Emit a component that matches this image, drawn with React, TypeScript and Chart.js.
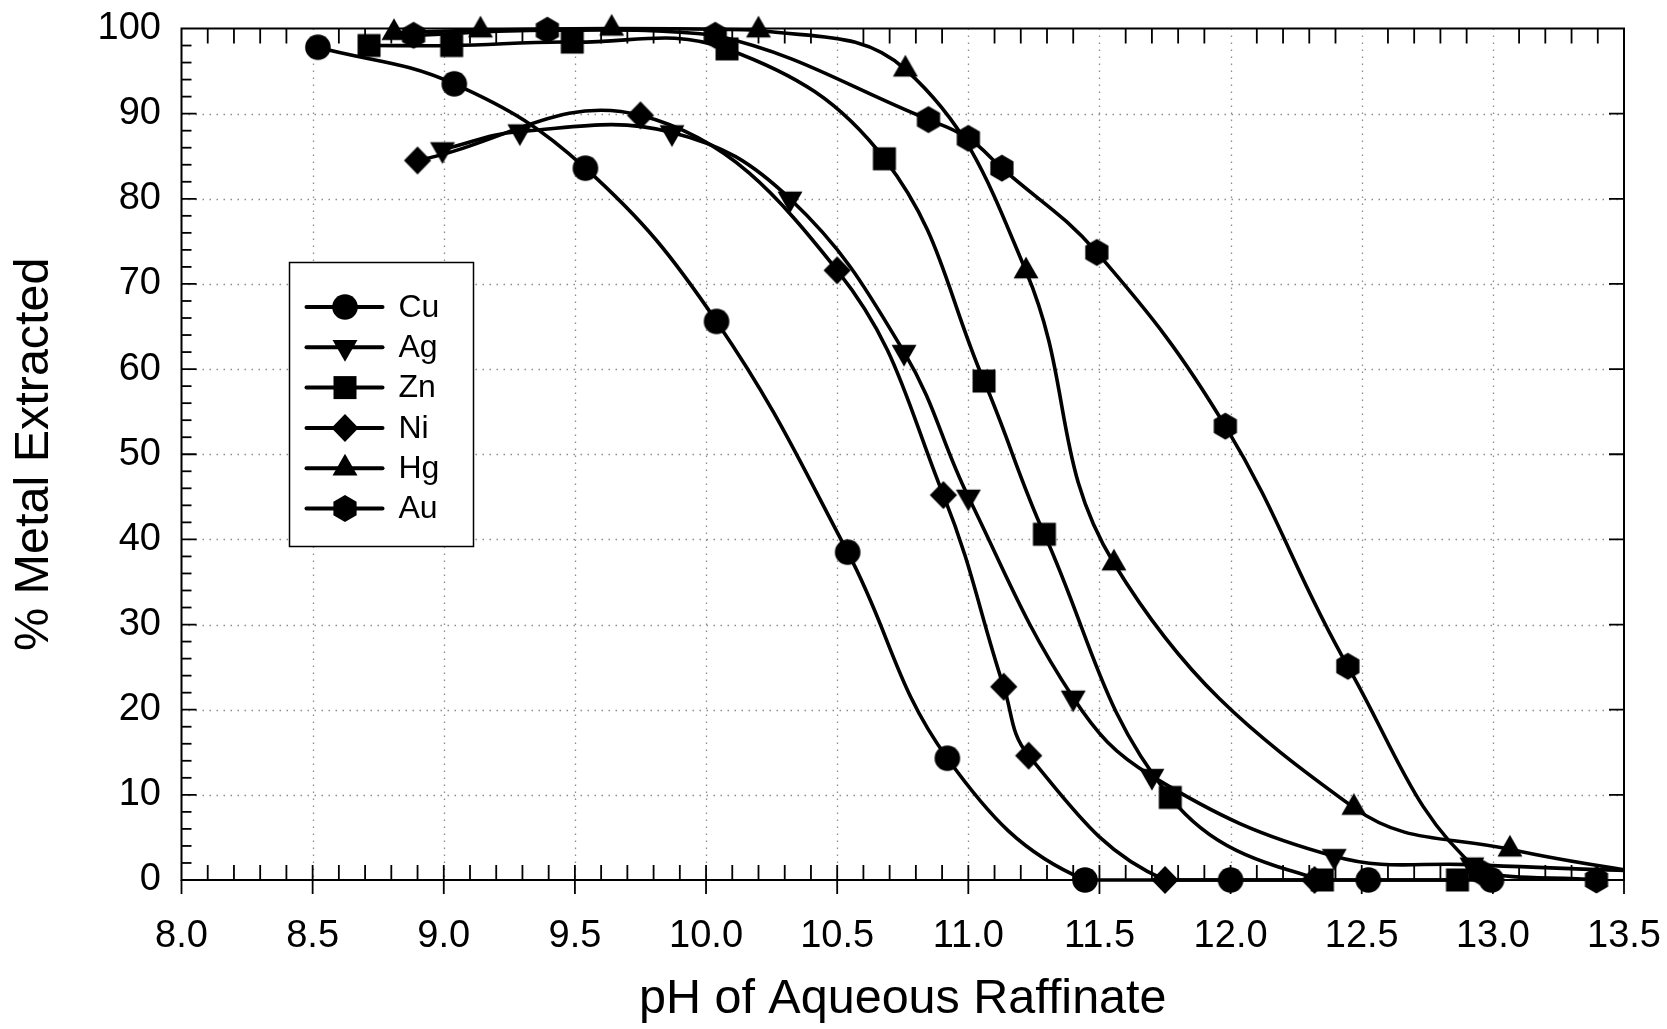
import React, { useEffect, useRef } from "react";
import { Chart, registerables } from "chart.js";

Chart.register(...registerables);

type Pt = [number, number];

// ---- data (pH, % extracted) ----
const cuPoints: Pt[] = [
  [8.52, 97.8], [9.04, 93.5], [9.54, 83.6], [10.04, 65.6], [10.54, 38.5],
  [10.92, 14.3], [11.445, 0], [12.0, 0], [12.525, 0], [12.995, 0],
];
const agPoints: Pt[] = [
  [8.995, 85.8], [9.29, 87.9], [9.87, 87.8], [10.32, 80.0], [10.755, 62.0],
  [11.0, 45.0], [11.4, 21.4], [11.7, 12.2], [12.395, 2.8], [12.92, 1.8], [13.8, 0.8],
];
const znPoints: Pt[] = [
  [8.715, 98.0], [9.03, 98.0], [9.49, 98.4], [10.08, 97.6], [10.68, 84.7],
  [11.06, 58.6], [11.29, 40.6], [11.77, 9.7], [12.35, 0], [12.865, 0],
];
const niPoints: Pt[] = [
  [8.9, 84.5], [9.75, 89.8], [10.5, 71.6], [10.905, 45.2], [11.135, 22.7],
  [11.23, 14.6], [11.75, 0], [12.32, 0],
];
const hgPoints: Pt[] = [
  [8.81, 99.5], [9.14, 99.8], [9.64, 100.0], [10.2, 99.8], [10.76, 95.2],
  [11.22, 71.5], [11.555, 37.2], [12.47, 8.5], [13.065, 3.6], [13.7, 0.2],
];
const auPoints: Pt[] = [
  [8.885, 99.2], [9.395, 99.8], [10.035, 99.2], [10.848, 89.3], [11.0, 87.1],
  [11.128, 83.6], [11.49, 73.7], [11.98, 53.3], [12.447, 25.1], [12.95, 1.0], [13.395, 0],
];

const seriesLabels = ["Cu", "Ag", "Zn", "Ni", "Hg", "Au"];
const seriesPoints = [cuPoints, agPoints, znPoints, niPoints, hgPoints, auPoints];
const seriesMarkers = ["circle", "triangleDown", "square", "diamond", "triangleUp", "hexagon"];

const xTickMin = 8.0;
const xTickMax = 13.5;
const xTickStep = 0.5;
const yTickMin = 0;
const yTickMax = 100;
const yTickStep = 10;

const xTitle = "pH of Aqueous Raffinate";
const yTitle = "% Metal Extracted";

const FONT = "'Liberation Sans', Arial, Helvetica, sans-serif";

function drawMarker(ctx: CanvasRenderingContext2D, kind: string, cx: number, cy: number) {
  ctx.beginPath();
  if (kind === "circle") {
    ctx.arc(cx, cy, 12.8, 0, Math.PI * 2);
  } else if (kind === "triangleDown" || kind === "triangleUp") {
    const R = 14.4;
    const s = kind === "triangleUp" ? -1 : 1;
    ctx.moveTo(cx, cy + s * R);
    ctx.lineTo(cx + R * 0.866, cy - s * R / 2);
    ctx.lineTo(cx - R * 0.866, cy - s * R / 2);
    ctx.closePath();
  } else if (kind === "square") {
    ctx.rect(cx - 11.5, cy - 11.5, 23, 23);
  } else if (kind === "diamond") {
    ctx.moveTo(cx, cy - 14);
    ctx.lineTo(cx + 13.6, cy);
    ctx.lineTo(cx, cy + 14);
    ctx.lineTo(cx - 13.6, cy);
    ctx.closePath();
  } else if (kind === "hexagon") {
    const R = 13.4;
    for (let i = 0; i < 6; i++) {
      const a = -Math.PI / 2 + (i * Math.PI) / 3;
      const px = cx + R * Math.cos(a);
      const py = cy + R * Math.sin(a);
      if (i === 0) ctx.moveTo(px, py);
      else ctx.lineTo(px, py);
    }
    ctx.closePath();
  }
  ctx.fillStyle = "#000";
  ctx.fill();
}

function makeMarkerCanvas(kind: string): HTMLCanvasElement {
  const c = document.createElement("canvas");
  c.width = 36;
  c.height = 36;
  const ctx = c.getContext("2d")!;
  drawMarker(ctx, kind, 18, 18);
  return c;
}

const framePlugin = {
  id: "frameAndGrid",
  beforeDatasetsDraw(chart: any) {
    const { ctx, chartArea } = chart;
    const xs = chart.scales.x;
    const ys = chart.scales.y;
    const { left, right, top, bottom } = chartArea;
    ctx.save();
    // dotted grid
    ctx.strokeStyle = "#8c8c8c";
    ctx.lineWidth = 1.3;
    ctx.setLineDash([1.5, 5.5]);
    const nx = Math.round((xTickMax - xTickMin) / xTickStep);
    for (let i = 1; i < nx; i++) {
      const px = Math.round(xs.getPixelForValue(xTickMin + i * xTickStep)) + 0.5;
      ctx.beginPath();
      ctx.moveTo(px, top);
      ctx.lineTo(px, bottom);
      ctx.stroke();
    }
    const ny = Math.round((yTickMax - yTickMin) / yTickStep);
    for (let i = 1; i < ny; i++) {
      const py = Math.round(ys.getPixelForValue(yTickMin + i * yTickStep)) + 0.5;
      ctx.beginPath();
      ctx.moveTo(left, py);
      ctx.lineTo(right, py);
      ctx.stroke();
    }
    ctx.setLineDash([]);
    ctx.strokeStyle = "#000";
    ctx.lineWidth = 1.8;
    // x ticks (minor every 1/5 of major)
    const nMinorX = nx * 5;
    for (let i = 0; i <= nMinorX; i++) {
      const px = xs.getPixelForValue(xTickMin + (i * xTickStep) / 5);
      const major = i % 5 === 0;
      ctx.beginPath();
      if (major) {
        ctx.moveTo(px, bottom + 14);
        ctx.lineTo(px, i === 0 || i === nMinorX ? bottom : bottom - 15);
      } else {
        ctx.moveTo(px, bottom);
        ctx.lineTo(px, bottom - 15);
        ctx.moveTo(px, top);
        ctx.lineTo(px, top + 15);
      }
      ctx.stroke();
    }
    // y ticks (minor every 1/5 of major)
    const nMinorY = ny * 5;
    for (let i = 1; i < nMinorY; i++) {
      const py = ys.getPixelForValue(yTickMin + (i * yTickStep) / 5);
      const major = i % 5 === 0;
      ctx.beginPath();
      ctx.moveTo(left, py);
      ctx.lineTo(left + (major ? 15 : 10), py);
      if (major) {
        ctx.moveTo(right, py);
        ctx.lineTo(right - 15, py);
      }
      ctx.stroke();
    }
    // frame
    ctx.lineWidth = 2;
    ctx.strokeRect(left, top, right - left, bottom - top);
    ctx.restore();
  },
};

const legendPlugin = {
  id: "boxLegend",
  afterDraw(chart: any) {
    const { ctx, chartArea } = chart;
    const bx = chartArea.left + 108;
    const by = chartArea.top + 234;
    const bw = 184;
    const bh = 284;
    ctx.save();
    ctx.fillStyle = "#fff";
    ctx.fillRect(bx, by, bw, bh);
    ctx.strokeStyle = "#000";
    ctx.lineWidth = 1.5;
    ctx.strokeRect(bx, by, bw, bh);
    ctx.font = `32px ${FONT}`;
    ctx.textBaseline = "middle";
    ctx.textAlign = "left";
    seriesLabels.forEach((lab, i) => {
      const y = by + 44.5 + i * 40.3;
      ctx.strokeStyle = "#000";
      ctx.lineWidth = 4;
      ctx.lineCap = "round";
      ctx.beginPath();
      ctx.moveTo(bx + 17, y);
      ctx.lineTo(bx + 93, y);
      ctx.stroke();
      drawMarker(ctx, seriesMarkers[i], bx + 55.5, y);
      ctx.fillStyle = "#000";
      ctx.fillText(lab, bx + 109, y + 1);
    });
    ctx.restore();
  },
};

export default function App() {
  const canvasRef = useRef<HTMLCanvasElement | null>(null);

  useEffect(() => {
    const canvas = canvasRef.current;
    if (!canvas) return;
    const markerCanvases = seriesMarkers.map((m) => makeMarkerCanvas(m));
    const chart = new Chart(canvas, {
      type: "line",
      data: {
        datasets: seriesLabels.map((label, i) => ({
          label,
          data: seriesPoints[i].map(([x, y]) => ({ x, y })),
          borderColor: "#000",
          backgroundColor: "#000",
          borderWidth: 3.6,
          tension: 0.4,
          fill: false,
          pointStyle: markerCanvases[i],
          pointRadius: 13,
          pointHoverRadius: 13,
          clip: { left: false, top: false, right: 0, bottom: false },
        })),
      },
      options: {
        responsive: false,
        animation: false,
        events: [],
        devicePixelRatio: 1,
        layout: { padding: { left: 0, top: 28.5, right: 43, bottom: 0 } },
        plugins: {
          legend: { display: false },
          tooltip: { enabled: false },
        },
        scales: {
          x: {
            type: "linear",
            min: xTickMin,
            max: xTickMax,
            grid: { display: false, drawTicks: true, tickLength: 34 },
            border: { display: false },
            ticks: {
              stepSize: xTickStep,
              autoSkip: false,
              maxRotation: 0,
              padding: 0,
              color: "#000",
              font: { family: FONT, size: 38 },
              callback: (v: any) => Number(v).toFixed(1),
            },
            title: {
              display: true,
              text: xTitle,
              color: "#000",
              font: { family: FONT, size: 48.5 },
              padding: { top: 0, bottom: 0 },
            },
            afterFit: (scale: any) => {
              scale.height = 149;
            },
          },
          y: {
            type: "linear",
            min: yTickMin,
            max: yTickMax,
            grid: { display: false, drawTicks: true, tickLength: 20.5 },
            border: { display: false },
            ticks: {
              stepSize: yTickStep,
              padding: 0,
              color: "#000",
              font: { family: FONT, size: 38 },
            },
            title: {
              display: true,
              text: yTitle,
              color: "#000",
              font: { family: FONT, size: 48.5 },
              padding: { top: 6, bottom: 0 },
            },
            afterFit: (scale: any) => {
              scale.width = 181.5;
            },
          },
        },
      } as any,
      plugins: [framePlugin, legendPlugin],
    });
    return () => chart.destroy();
  }, []);

  return (
    <div
      style={{
        position: "fixed",
        left: 0,
        top: 0,
        width: 1667,
        height: 1029,
        background: "#fff",
      }}
    >
      <canvas ref={canvasRef} width={1667} height={1029} style={{ display: "block" }} />
    </div>
  );
}
